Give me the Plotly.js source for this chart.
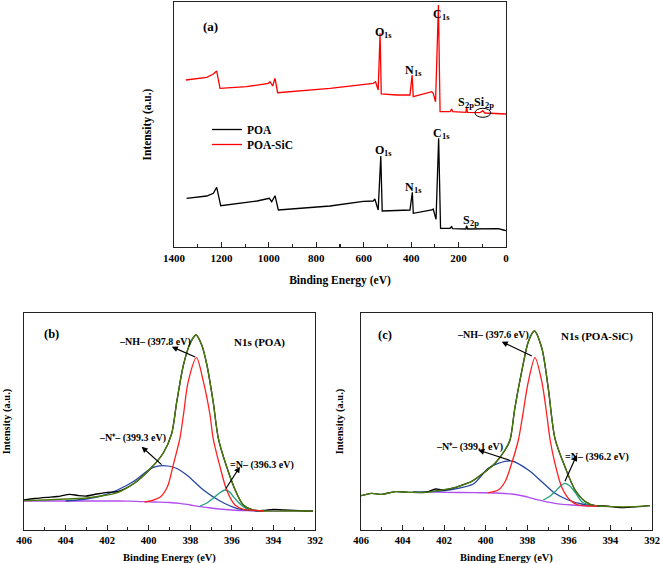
<!DOCTYPE html>
<html>
<head>
<meta charset="utf-8">
<script src="https://cdn.plot.ly/plotly-3.0.1.min.js"></script>
<style>html,body{margin:0;padding:0;background:#fff;}#chart{width:661px;height:564px;}</style>
</head>
<body>
<div id="chart"></div>
<script>
// ---------- Panel (a): survey spectra ----------
const surveyPoaSicEV = [1350,1262,1234,1220,1206,1094,1002,995,984,974,963,742,560,550,539,531,526,461,405,396,391,313,307,297,285,278,236,229,225,169,166,162,110,98,89,0];
const surveyPoaSicI  = [167,169.7,173,176,158.7,160.3,163.7,165.3,161,168.7,154.3,158.7,163.7,165.3,157,213.7,153,152,152,172,150.3,155.3,153.7,145.3,242,135.3,135.3,138,135.3,134.7,139.7,134.7,134.3,136.3,134,133];
const surveyPoaEV = [1347,1262,1234,1220,1203,1150,1100,1050,998,988,974,960,742,602,560,553,539,528,522,461,405,395,391,313,307,295,284,276,236,229,225,169,166,162,39,32,11,0];
const surveyPoaI  = [48.7,51,53.7,59.7,41.3,42.7,44.7,46,48.7,45.3,51.3,37,41,45.7,46,48,37,91,36,36.5,37,54.7,33.7,37,38,27.7,108.7,18.7,18.7,20.3,18.3,18,21.3,18,17.7,18.3,17,16.3];

// ---------- Panel (b): N1s (POA) ----------
const bBgEV = [406,403,401.4,400.6,399.8,399,398.5,398,397.5,397,396.6,396,395.3,394.5,392.1];
const bBgI  = [29,29,29,28.7,28,27.5,26.7,25,23.3,22,21,20,19.3,19.1,19];
const bRawEV = [406,405.5,404.9,404.4,403.8,403.4,403,402.5,402,401.5,400.7,399.9,399.3,398.9,398.65,398.33,398,397.72,397.45,397.2,396.9,396.65,396.25,395.77,395.45,395,394.5,394,393.5,393,392.5,392.1];
const bRawI  = [30,31.5,32.7,33.5,35.7,34.5,34,36,37.7,38.3,46.7,61.7,77,96,128.3,165,187,195,185,165,128.3,91.7,63.3,36.7,25,20,19.5,20.7,20,19.7,19,19];
const bFitEV = [406,405,404,403,402,401.5,400.7,399.9,399.3,398.9,398.65,398.33,398,397.72,397.45,397.2,396.9,396.65,396.25,395.77,395.45,395,394.5,393.5,392.1];
const bFitI  = [29.3,30,31,32,35,37.3,46.7,61.7,77,96,128.3,165,187,195,185,165,128.3,91.7,63.3,36.7,25,20,19,19,19];
const bNHEV = [400.2,399.94,399.46,399.1,398.8,398.5,398.33,398.1,397.7,397.37,397.05,396.9,396.57,396.25,395.85,395.45,394.97,394.5];
const bNHI  = [28,29,32.7,43.3,66.7,91.7,115,148.3,172.3,148.3,115,91.7,63.3,40,25,20.7,19.7,19];
const bNplusEV = [404,403.2,402.3,401.5,400.7,400.2,399.78,399.3,398.7,398.17,397.37,396.57,395.77,394.97,394.5];
const bNplusI  = [29,30.5,34,40,49,57,62.7,64.3,62,55,40,29,21.7,19.3,19];
const bImineEV = [397.53,397.2,396.9,396.6,396.33,396.1,395.93,395.7,395.45,395.2,394.97];
const bImineI  = [24,27,31.7,37,40,38,33.3,28,23.3,20.5,19.7];

// ---------- Panel (c): N1s (POA-SiC) ----------
const cBgEV = [403,402,400.5,399.5,398.75,398.2,397.6,396.67,395.86,394.74,394.4];
const cBgI  = [38.3,37.7,37.3,37,36,34,30.7,26.7,25,24,23.8];
const cRawEV = [406,405.5,405,404.36,403.7,402.9,402.4,402.1,401.5,401,400.7,400.03,399.55,399.07,398.83,398.6,398.27,397.95,397.66,397.3,396.99,396.67,396.19,395.7,395.2,394.74,394.26,393.46,392.66,392.1];
const cRawI  = [34.3,36.7,35.7,38.3,37.7,37.7,41,40,42.3,46,48.3,58.3,66.7,80,90,121.7,158.3,188.3,199,181.7,141.7,91.7,63.3,40,28.3,24.3,24,22.3,23.3,24.3];
const cFitEV = [406,405.5,405,404.36,403.7,402.9,402.1,401.5,400.7,400.03,399.55,399.07,398.83,398.6,398.27,397.95,397.66,397.3,396.99,396.67,396.19,395.7,395.2,394.74,393.78,392.98,392.1];
const cFitI  = [34.3,36.7,35.7,38.3,37.7,37.7,40,42.3,48.3,58.3,66.7,80,90,121.7,158.3,188.3,199,181.7,141.7,91.7,63.3,40,28.3,24.3,23.3,23.3,24.3];
const cNHEV = [399.88,399.4,399.07,398.75,398.43,398.27,397.95,397.63,397.3,397.06,396.9,396.67,396.35,395.95,395.55,395.06,394.6];
const cNHI  = [37.3,40,48.3,66.7,90,108.3,148.3,172.3,148.3,115,90,66.7,43.3,30,25,24,23.8];
const cNplusEV = [403.5,402.5,401.5,400.6,399.88,399.4,398.75,397.95,397.3,396.67,396.03,395.38,394.74];
const cNplusI  = [38,38.5,41,46,61.7,66.7,69,60,48.3,36.7,30,26,24.3];
const cImineEV = [397.23,396.9,396.67,396.4,396.2,395.98,395.78,395.55,395.38,395.1,394.9];
const cImineI  = [30,34,38.3,44,46.7,44.5,40,33,28.3,25.5,24.3];

const surveyTicks = [1400,1200,1000,800,600,400,200,0];
const n1sTicks = [406,404,402,400,398,396,394,392];

const FONT = 'Liberation Serif, Times New Roman, serif';
const C = {raw:'#000000', fit:'#4b7d0c', nh:'#ff1f1f', nplus:'#2747a0', imine:'#1f9e7e', bg:'#b04ff0', sic:'#ff0000'};

function line(x, y, color, xa, ya, name, legendId, shape) {
  const t = {x:x, y:y, type:'scatter', mode:'lines', name:name, showlegend:!!legendId,
          xaxis:xa, yaxis:ya, line:{color:color, width:1.3, shape:shape||'linear', smoothing:0.8},
          hoverinfo:'skip'};
  if (legendId) t.legend = legendId;
  return t;
}

const traces = [
  line(surveyPoaEV, surveyPoaI, C.raw, 'x', 'y', 'POA', 'legend'),
  line(surveyPoaSicEV, surveyPoaSicI, C.sic, 'x', 'y', 'POA-SiC', 'legend2'),

  line(bBgEV, bBgI, C.bg, 'x2', 'y2', 'Background', null, 'spline'),
  line(bNplusEV, bNplusI, C.nplus, 'x2', 'y2', '-N+-', null, 'spline'),
  line(bImineEV, bImineI, C.imine, 'x2', 'y2', '=N-', null, 'spline'),
  line(bRawEV, bRawI, C.raw, 'x2', 'y2', 'Raw', null, 'spline'),
  line(bFitEV, bFitI, C.fit, 'x2', 'y2', 'Fit', null, 'spline'),
  line(bNHEV, bNHI, C.nh, 'x2', 'y2', '-NH-', null, 'spline'),

  line(cBgEV, cBgI, C.bg, 'x3', 'y3', 'Background', null, 'spline'),
  line(cNplusEV, cNplusI, C.nplus, 'x3', 'y3', '-N+-', null, 'spline'),
  line(cImineEV, cImineI, C.imine, 'x3', 'y3', '=N-', null, 'spline'),
  line(cRawEV, cRawI, C.raw, 'x3', 'y3', 'Raw', null, 'spline'),
  line(cFitEV, cFitI, C.fit, 'x3', 'y3', 'Fit', null, 'spline'),
  line(cNHEV, cNHI, C.nh, 'x3', 'y3', '-NH-', null, 'spline')
];

function xax(domain, range, tickvals, dtickMinor, fs, tfs, standoff) {
  return {domain:domain, range:range, autorange:false, tickmode:'array', tickvals:tickvals,
          ticks:'inside', ticklen:5, tickwidth:1.2, tickcolor:'#222',
          minor:{ticks:'inside', dtick:dtickMinor, tick0:0, ticklen:3, tickwidth:1.1, tickcolor:'#222', showgrid:false},
          showline:true, mirror:true, linecolor:'#222', linewidth:1.3, showgrid:false, zeroline:false,
          tickfont:{size:fs, family:FONT, weight:'bold', color:'#000'},
          title:{text:'Binding Energy (eV)', font:{size:tfs, family:FONT, weight:'bold', color:'#000'}, standoff:standoff}};
}
function yax(domain, range, anchor, tfs, standoff) {
  return {domain:domain, range:range, autorange:false, anchor:anchor, showticklabels:false, ticks:'',
          showline:true, mirror:true, linecolor:'#222', linewidth:1.3, showgrid:false, zeroline:false,
          title:{text:'Intensity (a.u.)', font:{size:tfs, family:FONT, weight:'bold', color:'#000'}, standoff:standoff}};
}

const W = 661, H = 564;
const px = v => v / W, py = v => 1 - v / H;

function txt(x, y, text, xref, yref, size) {
  return {x:x, y:y, xref:xref, yref:yref, text:text, showarrow:false, xanchor:'center', yanchor:'middle',
          font:{size:size, family:FONT, weight:'bold', color:'#000'}};
}
// element label with subscript: main symbol ends at the split point, subscript starts there, lowered
function elem(x, y, sym, sub) {
  return [
    {x:x, y:y, xref:'x', yref:'y', text:sym, showarrow:false, xanchor:'right', yanchor:'middle',
     borderpad:0, borderwidth:0, xshift:0.5,
     font:{size:12, family:FONT, weight:'bold', color:'#000'}},
    {x:x, y:y, xref:'x', yref:'y', text:sub, showarrow:false, xanchor:'left', yanchor:'middle',
     borderpad:0, borderwidth:0, xshift:0.5, yshift:-3,
     font:{size:8.5, family:FONT, weight:'bold', color:'#000'}}
  ];
}
function arrow(x, y, ax, ay, xref, yref) {
  return {x:x, y:y, ax:ax, ay:ay, xref:xref, yref:yref, axref:xref, ayref:yref, text:'', showarrow:true,
          arrowhead:2, arrowsize:1, arrowwidth:1.2, arrowcolor:'#000'};
}

const annotations = [].concat(
  [txt(px(210), py(27), '(a)', 'paper', 'paper', 13)],
  elem(515, 215, 'O', '1s'),
  elem(392, 177, 'N', '1s'),
  elem(274, 233, 'C', '1s'),
  elem(177, 145, 'S', '2p'),
  elem(92, 145, 'Si', '2p'),
  elem(515, 97, 'O', '1s'),
  elem(388, 60, 'N', '1s'),
  elem(274, 114, 'C', '1s'),
  elem(156, 27, 'S', '2p'),
  [
  txt(404.67, 196, '(b)', 'x2', 'y2', 12.5),
  txt(399.70, 188.3, '–NH– (397.8 eV)', 'x2', 'y2', 10),
  arrow(398.89, 183.3, 397.69, 172.3, 'x2', 'y2'),
  txt(394.65, 187.3, 'N1s (POA)', 'x2', 'y2', 11),
  txt(400.76, 92, '–N⁺– (399.3 eV)', 'x2', 'y2', 10),
  arrow(400.34, 83.3, 399.31, 64, 'x2', 'y2'),
  txt(394.56, 65, '=N– (396.3 eV)', 'x2', 'y2', 10),
  arrow(395.61, 63.3, 396.33, 40, 'x2', 'y2'),

  txt(404.85, 195, '(c)', 'x3', 'y3', 12.5),
  txt(399.64, 195, '–NH– (397.6 eV)', 'x3', 'y3', 10),
  arrow(399.23, 188.3, 397.71, 173.3, 'x3', 'y3'),
  txt(394.66, 193.3, 'N1s (POA-SiC)', 'x3', 'y3', 11),
  txt(400.76, 83.3, '–N⁺– (399.1 eV)', 'x3', 'y3', 10),
  arrow(400.36, 80, 398.75, 69, 'x3', 'y3'),
  txt(394.66, 73.3, '=N– (396.2 eV)', 'x3', 'y3', 10),
  arrow(395.62, 75, 396.22, 47.3, 'x3', 'y3')
  ]
);

const legendBase = {xanchor:'left', yanchor:'top', bgcolor:'rgba(0,0,0,0)', itemwidth:30,
                    font:{size:11.5, family:FONT, weight:'bold', color:'#000'}};

const layout = {
  width:W, height:H, margin:{l:0, r:0, t:0, b:0},
  paper_bgcolor:'#fff', plot_bgcolor:'#fff',
  font:{family:FONT, color:'#000', weight:'bold'},
  showlegend:true,
  legend: Object.assign({x:px(207), y:py(115)}, legendBase),
  legend2: Object.assign({x:px(207), y:py(130)}, legendBase),
  xaxis: xax([px(174), px(506)], [1400, 0], surveyTicks, 100, 11, 11.5, 13),
  yaxis: yax([py(247), py(2)], [0, 245], 'x', 11.5, 18),
  xaxis2: Object.assign(xax([px(24), px(315)], [406, 392], n1sTicks, 1, 10.5, 10.5, 8), {anchor:'y2'}),
  yaxis2: yax([py(530), py(313)], [0, 217], 'x2', 10.5, 10),
  xaxis3: Object.assign(xax([px(361), px(652)], [406, 392], n1sTicks, 1, 10.5, 10.5, 8), {anchor:'y3'}),
  yaxis3: yax([py(530), py(313)], [0, 217], 'x3', 10.5, 14),
  annotations: annotations,
  shapes: [{type:'circle', xref:'x', yref:'y', x0:131, x1:64.5, y0:129.7, y1:138.7, line:{color:'#000', width:1}}]
};

Plotly.newPlot('chart', traces, layout, {staticPlot:true, displayModeBar:false});
</script>
</body>
</html>
